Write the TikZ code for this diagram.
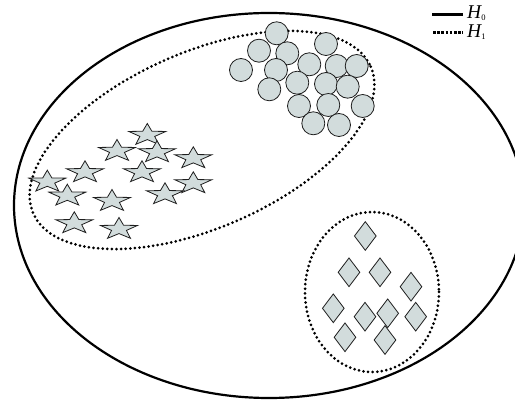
\documentclass[tikz,border=0pt]{standalone}
\usepackage{fontspec}
\setmainfont{Liberation Serif}
\usetikzlibrary{shapes.geometric}
\definecolor{shapefill}{RGB}{210,220,220}
\definecolor{shapeline}{RGB}{30,30,30}
\tikzset{
  dotline/.style={line width=3pt, line cap=round, dash pattern=on 0pt off 4.6pt},
  solidline/.style={line width=2.2pt},
  circ/.style={circle, draw=shapeline, fill=shapefill, line width=0.8pt, inner sep=0pt, minimum size=23pt},
  diam/.style={diamond, draw=shapeline, fill=shapefill, line width=0.8pt, inner sep=0pt, minimum width=22pt, minimum height=29pt},
  starpic/.pic={
    \draw[draw=shapeline, fill=shapefill, line width=0.8pt]
      (270:19.5 and 11.5) -- (306:7.8 and 4.6) -- (342:19.5 and 11.5) -- (18:7.8 and 4.6) -- (54:19.5 and 11.5)
      -- (90:7.8 and 4.6) -- (126:19.5 and 11.5) -- (162:7.8 and 4.6) -- (198:19.5 and 11.5) -- (234:7.8 and 4.6) -- cycle;
  },
  legtext/.style={anchor=base west, inner sep=0pt, font=\fontsize{19.5}{20}\selectfont\itshape}
}
\newcommand{\legsub}[1]{\raisebox{-1.5pt}{\fontsize{8.5}{9}\selectfont\upshape #1}}
\begin{document}
\begin{tikzpicture}[x=1pt,y=-1pt]
\useasboundingbox (0,0) rectangle (515,403);
\begin{scope}
\clip (0,0) rectangle (515,403);
% outer ellipse (cut by the right border)
\draw[solidline] (269,205.5) ellipse (255 and 192.5);
\end{scope}
% dotted ellipses
\draw[dotline, rotate around={23.5:(202,140)}] (202,140) ellipse (184 and 88);
\draw[dotline] (372,292) ellipse (67 and 80);
% circles
\foreach \n/\x/\y in {c1/276.7/33.3, c2/259/50.7, c3/287.3/53.3, c4/326/44, c5/241/70, c6/276/70,
  c7/309.3/64.3, c8/336.7/66, c9/356.7/66, c10/269.3/89.3, c11/297.3/82.7, c12/326/84,
  c13/347.7/86.7, c14/299/106, c15/328.3/105, c16/362.7/106, c17/313.3/123.3, c18/339/125}
  \node[circ] (\n) at (\x,\y) {};
% stars
\foreach \n/\x/\y in {s1/147.3/135, s2/117/151, s3/157/152.3, s4/193.3/158.3, s5/85/172.3,
  s6/142/172.3, s7/47.3/181.7, s8/193.3/183.3, s9/67.3/195.7, s10/165/194.3, s11/112/201,
  s12/74.3/223.3, s13/119/229}
  \pic (\n) at (\x,\y) {starpic};
% diamonds
\foreach \n/\x/\y in {d1/365.3/236, d2/349/272.3, d3/380/272.3, d4/411/286.7, d5/333.3/308.3,
  d6/365/316.7, d7/387.7/313.3, d8/415.7/316.7, d9/345/337.3, d10/385/340}
  \node[diam] (\n) at (\x,\y) {};
% legend
\coordinate (l0a) at (432,14.5); \coordinate (l0b) at (463,14.5);
\coordinate (l1a) at (433,32.5); \coordinate (l1b) at (463,32.5);
\draw[line width=2.2pt] (l0a) -- (l0b);
\draw[line width=2.6pt, dash pattern=on 2.6pt off 1.6pt] (l1a) -- (l1b);
\node[legtext] (h0) at (467,19) {H\legsub{0}};
\node[legtext] (h1) at (467,38) {H\legsub{1}};
\end{tikzpicture}
\end{document}
